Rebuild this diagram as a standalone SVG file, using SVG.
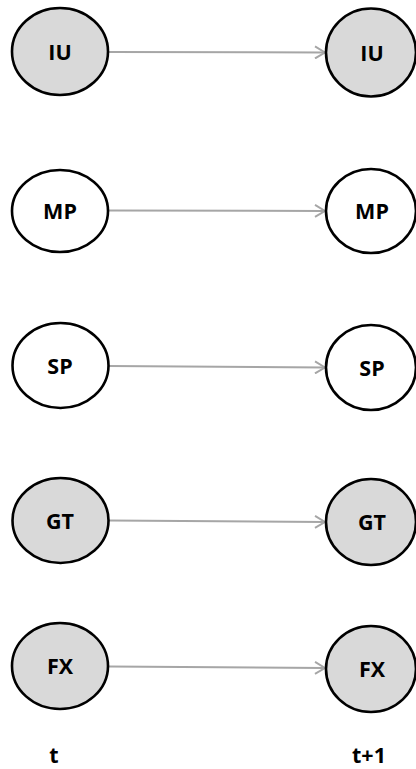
<svg xmlns="http://www.w3.org/2000/svg" width="416" height="769" viewBox="0 0 416 769">
<style>
.n{stroke:#000;stroke-width:2.6}
.g{fill:#d9d9d9}
.w{fill:#fff}
.lbl{font-family:"Open Sans","Liberation Sans",sans-serif;font-weight:bold;font-size:21.5px;fill:#000;text-anchor:middle}
.e{stroke:#a6a6a6;stroke-width:2;fill:none}
</style>
<defs>
<marker id="ah" viewBox="0 0 12 14" refX="11" refY="7" markerWidth="12" markerHeight="14" markerUnits="userSpaceOnUse" orient="auto">
<path d="M1,1 L11,7 L1,13" fill="none" stroke="#a6a6a6" stroke-width="2"/>
</marker>
</defs>
<rect width="416" height="769" fill="#fff"/>
<g id="connectors">
<line class="e" x1="109" y1="52" x2="325" y2="52.5" marker-end="url(#ah)"/>
<line class="e" x1="109" y1="210.5" x2="325" y2="211" marker-end="url(#ah)"/>
<line class="e" x1="109" y1="366" x2="325" y2="367.5" marker-end="url(#ah)"/>
<line class="e" x1="109" y1="520.5" x2="325" y2="522" marker-end="url(#ah)"/>
<line class="e" x1="109" y1="666.5" x2="325" y2="668" marker-end="url(#ah)"/>
</g>
<g id="IU_t"><ellipse class="n g" cx="60" cy="51.5" rx="48" ry="43.5"/><text class="lbl" x="60" y="59.5">IU</text></g>
<g id="IU_t1"><ellipse class="n g" cx="371" cy="52.5" rx="45" ry="44"/><text class="lbl" x="372" y="60.5">IU</text></g>
<g id="MP_t"><ellipse class="n w" cx="60" cy="211" rx="48" ry="41"/><text class="lbl" x="60" y="219">MP</text></g>
<g id="MP_t1"><ellipse class="n w" cx="371" cy="211" rx="45" ry="42"/><text class="lbl" x="372" y="219">MP</text></g>
<g id="SP_t"><ellipse class="n w" cx="60.5" cy="365.5" rx="48" ry="42.5"/><text class="lbl" x="60" y="373.5">SP</text></g>
<g id="SP_t1"><ellipse class="n w" cx="371" cy="367.5" rx="45" ry="42.5"/><text class="lbl" x="372" y="375.5">SP</text></g>
<g id="GT_t"><ellipse class="n g" cx="60.5" cy="520.5" rx="48" ry="42.5"/><text class="lbl" x="60" y="528.5">GT</text></g>
<g id="GT_t1"><ellipse class="n g" cx="371" cy="522" rx="45" ry="43"/><text class="lbl" x="372" y="530">GT</text></g>
<g id="FX_t"><ellipse class="n g" cx="60" cy="666" rx="48" ry="43"/><text class="lbl" x="60" y="674">FX</text></g>
<g id="FX_t1"><ellipse class="n g" cx="371" cy="669" rx="45" ry="43"/><text class="lbl" x="372" y="677">FX</text></g>
<text class="lbl" x="54" y="763">t</text>
<text class="lbl" x="369" y="763">t+1</text>
</svg>
